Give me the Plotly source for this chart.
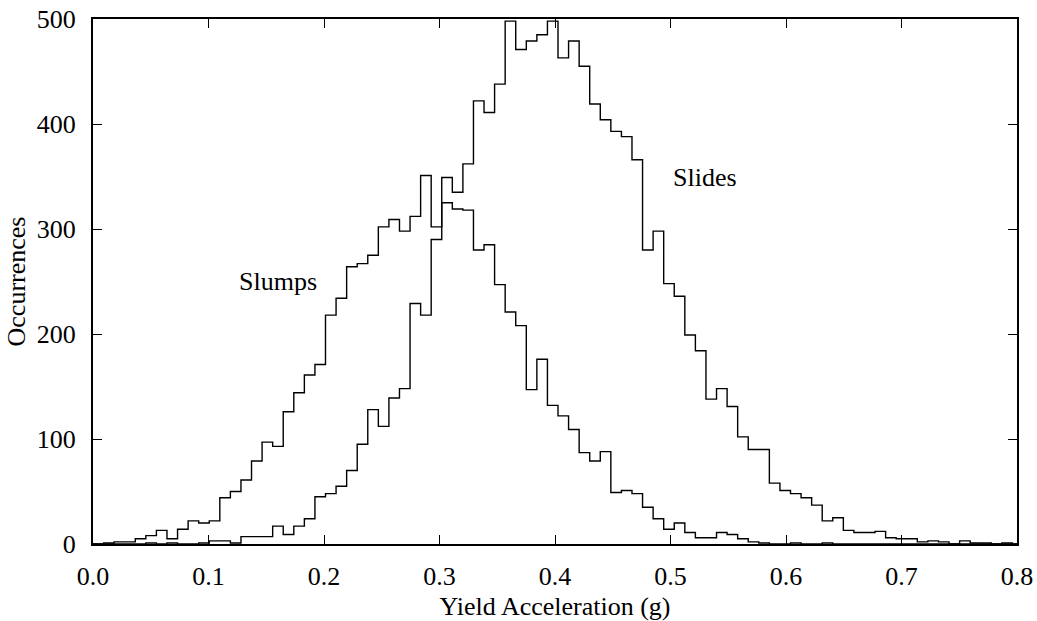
import plotly.graph_objects as go

# Histogram bins (shared by both series)
bin_start = 0.0
bin_width = 0.00915

slumps_counts = [0, 1, 2, 2, 5, 8, 13, 5, 14, 22,
                 20, 22, 44, 50, 61, 79, 97, 93, 126, 144,
                 161, 171, 218, 234, 264, 267, 275, 302, 309, 298,
                 312, 351, 302, 325, 319, 318, 280, 285, 247, 221,
                 208, 147, 176, 132, 122, 109, 87, 79, 88, 49,
                 51, 48, 35, 24, 14, 20, 11, 6, 6, 11,
                 9, 5, 2, 1, 0, 0, 1, 0, 0, 1,
                 0, 0, 0, 0, 0, 0, 0, 0, 0, 0,
                 0, 0, 0, 0, 0, 0, 0, 0]

slides_counts = [0, 0, 0, 0, 0, 1, 0, 1, 0, 0,
                 1, 3, 3, 1, 7, 7, 7, 17, 9, 17,
                 24, 45, 48, 55, 70, 95, 128, 112, 139, 148,
                 229, 218, 290, 349, 335, 362, 422, 411, 438, 498,
                 471, 479, 485, 498, 463, 479, 455, 419, 404, 393,
                 388, 366, 280, 298, 248, 236, 199, 184, 138, 148,
                 131, 102, 90, 90, 58, 51, 48, 44, 37, 22,
                 25, 13, 11, 11, 12, 6, 5, 5, 2, 3,
                 2, 0, 3, 1, 1, 0, 1, 0]

x_ticks = [0.0, 0.1, 0.2, 0.3, 0.4, 0.5, 0.6, 0.7, 0.8]
x_tick_labels = ["0.0", "0.1", "0.2", "0.3", "0.4", "0.5", "0.6", "0.7", "0.8"]
y_ticks = [0, 100, 200, 300, 400, 500]
y_tick_labels = ["0", "100", "200", "300", "400", "500"]

labels = ["Slumps", "Slides"]
label_x = [0.125, 0.5]
label_y = [250, 349]

FONT = "Liberation Serif"
FS = 26


def step_xy(counts):
    n = len(counts)
    xs = [bin_start + i * bin_width for i in range(n + 1)]
    ys = list(counts) + [counts[-1]]
    return xs, ys


fig = go.Figure()
for counts, name in [(slumps_counts, "Slumps"), (slides_counts, "Slides")]:
    xs, ys = step_xy(counts)
    fig.add_trace(go.Scatter(x=xs, y=ys, mode="lines", line_shape="hv",
                             line=dict(color="black", width=1.4),
                             name=name, showlegend=False, hoverinfo="skip",
                             cliponaxis=True))

for t, xx, yy in zip(labels, label_x, label_y):
    fig.add_annotation(x=xx, y=yy, text=t, showarrow=False, xanchor="left",
                       yanchor="middle", font=dict(family=FONT, size=FS, color="black"))

axis_common = dict(showline=True, linecolor="black", linewidth=2, mirror="allticks",
                   ticks="inside", ticklen=9, tickwidth=1.2, tickcolor="black",
                   showgrid=False, zeroline=False, automargin=False,
                   tickfont=dict(family=FONT, size=FS, color="black"))

fig.update_xaxes(range=[0, 0.8], tickvals=x_ticks, ticktext=x_tick_labels,
                 ticklabelstandoff=8,
                 title=dict(text="Yield Acceleration (g)", standoff=12,
                            font=dict(family=FONT, size=FS, color="black")),
                 **axis_common)
fig.update_yaxes(range=[0, 500], tickvals=y_ticks, ticktext=y_tick_labels,
                 ticklabelstandoff=10,
                 title=dict(text="Occurrences", standoff=4,
                            font=dict(family=FONT, size=FS, color="black")),
                 **axis_common)

fig.update_layout(width=1037, height=621, autosize=False,
                  margin=dict(l=93, r=20, t=19, b=77, autoexpand=False),
                  paper_bgcolor="white", plot_bgcolor="white")

fig.write_html("out.html", config={"displayModeBar": False},
               post_script="document.body.style.margin='0px';document.body.style.padding='0px';")
